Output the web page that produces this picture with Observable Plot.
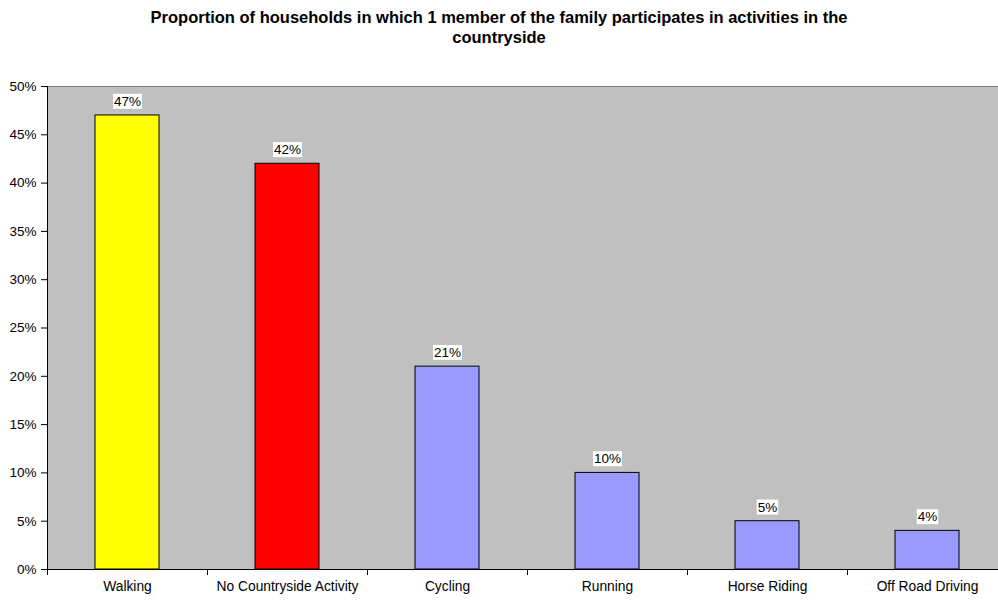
<!DOCTYPE html>
<html>
<head>
<meta charset="utf-8">
<script src="https://cdn.jsdelivr.net/npm/d3@7"></script>
<script src="https://cdn.jsdelivr.net/npm/@observablehq/plot@0.6"></script>
<style>
  html, body { margin: 0; padding: 0; background: #fff; overflow: hidden; }
  #title { height: 56px; width: 998px; text-align: center; font: bold 16.5px "Liberation Sans", Arial, sans-serif; color: #000; padding-top: 7px; box-sizing: border-box; line-height: 20px; }
  #chart svg { display: block; overflow: hidden !important; }
</style>
</head>
<body>
<div id="title">Proportion of households in which 1 member of the family participates in activities in the<br>countryside</div>
<div id="chart"></div>
<script>
const categories = ["Walking", "No Countryside Activity", "Cycling", "Running", "Horse Riding", "Off Road Driving"];
const values = [0.47, 0.42, 0.21, 0.10, 0.05, 0.04];
const colors = ["#FFFF00", "#FF0000", "#9999FF", "#9999FF", "#9999FF", "#9999FF"];
const yTicks = [0, 0.05, 0.10, 0.15, 0.20, 0.25, 0.30, 0.35, 0.40, 0.45, 0.50];

const data = categories.map((c, i) => ({category: c, value: values[i], color: colors[i]}));

const W = 998, H = 546, ML = 47, MR = -9, MT = 30, MB = 33;
const step = (W - ML - MR) / categories.length;
const font = '"Liberation Sans", Arial, sans-serif';

const plot = Plot.plot({
  width: W, height: H,
  marginLeft: ML, marginRight: MR, marginTop: MT, marginBottom: MB,
  style: {fontFamily: font, fontSize: "13.5px", color: "#000", background: "#fff", overflow: "hidden"},
  x: {domain: categories, paddingInner: 0.6, paddingOuter: 0.3, round: false, label: null, axis: null},
  y: {domain: [0, 0.5], label: null, axis: null},
  marks: [
    Plot.frame({fill: "#C0C0C0"}),
    Plot.ruleY([0.5], {stroke: "#808080", strokeWidth: 1}),
    Plot.barY(data, {x: "category", y: "value", fill: "color", stroke: "#000", strokeWidth: 1}),
    Plot.axisY({ticks: yTicks, tickFormat: d3.format(".0%"), tickSize: 6, tickPadding: 5, fontSize: 13.5, label: null}),
    Plot.axisX({tickSize: 0, tickPadding: 12, fontSize: 13.8, label: null}),
    Plot.ruleX(categories, {x: d => d, dx: -step / 2, insetTop: H - MT - MB, insetBottom: -6, stroke: "#000"}),
    Plot.ruleX([categories[0]], {x: d => d, dx: -step / 2, stroke: "#000"}),
    Plot.ruleY([0], {stroke: "#000"}),
    Plot.text(data, {x: "category", y: "value", text: d => d3.format(".0%")(d.value), dy: -14, fontSize: 13.5, fill: "#000", className: "barlabel"})
  ]
});
document.getElementById("chart").appendChild(plot);

// white background boxes behind bar labels
const svg = document.querySelector("#chart svg");
svg.querySelectorAll("g.barlabel text").forEach(t => {
  const b = t.getBBox();
  const ctm = t.getAttribute("transform");
  const r = document.createElementNS("http://www.w3.org/2000/svg", "rect");
  r.setAttribute("x", b.x - 1);
  r.setAttribute("y", b.y);
  r.setAttribute("width", b.width + 2);
  r.setAttribute("height", b.height);
  r.setAttribute("fill", "#fff");
  if (ctm) r.setAttribute("transform", ctm);
  t.parentNode.insertBefore(r, t);
});
</script>
</body>
</html>
